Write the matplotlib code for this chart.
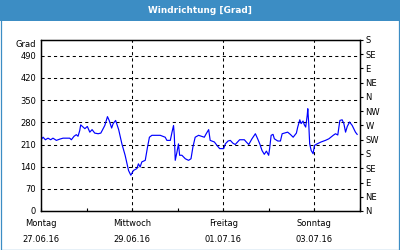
import matplotlib
matplotlib.use("Agg")
import matplotlib.pyplot as plt
from matplotlib.patches import Rectangle

# hours since Monday 27.06.16 00:00
hours = [0, 1.1, 2.3, 3.7, 5.1, 6.3, 8.1, 9.9, 11.6, 15.1, 16.0, 17.4, 18.6, 19.5,
         20.4, 20.9, 22.2, 23.1, 24.4, 25.7, 26.9, 28.3, 30.1, 31.5, 32.7, 33.6,
         35.0, 35.9, 37.2, 38.0, 39.3, 40.9, 42.6, 44.3, 46.1, 47.3, 48.7, 50.5,
         51.3, 52.2, 53.1, 54.9, 56.1, 57.1, 58.4, 62.8, 65.4, 66.3, 68.1, 69.0,
         69.8, 70.2, 70.7, 71.6, 72.4, 73.0, 74.2, 76.0, 77.7, 79.0, 80.0, 81.2,
         83.0, 86.0, 87.0, 88.3, 89.1, 91.3, 92.7, 94.1, 96.2, 97.1, 98.5, 99.7,
         101.1, 102.3, 104.6, 107.1, 108.1, 109.4, 111.1, 112.9, 114.1, 115.2,
         116.4, 117.6, 118.7, 119.9, 120.4, 121.2, 122.2, 122.9, 124.7, 126.1,
         127.0, 128.7, 129.9, 131.3, 132.8, 134.5, 135.2, 136.3, 137.0, 138.0,
         138.7, 139.4, 139.8, 140.2, 140.5, 141.0, 141.5, 142.3, 143.3, 144.0,
         145.4, 147.5, 149.8, 151.6, 153.9, 155.1, 156.3, 157.4, 158.6, 159.5,
         160.4, 161.3, 162.5, 163.9, 165.6, 166.5]
grad = [225, 233, 225, 230, 225, 230, 223, 227, 230, 230, 225, 236, 241, 236,
        254, 272, 265, 260, 267, 249, 257, 246, 244, 246, 260, 270,
        298, 286, 262, 276, 286, 257, 212, 176, 128, 113, 128, 134,
        149, 139, 155, 160, 202, 233, 239, 239, 233, 223, 223, 249,
        270, 239, 160, 186, 212, 176, 176, 165, 160, 165, 202, 233,
        239, 233, 244, 257, 223, 218, 207, 197, 197, 212, 221, 223,
        214, 210, 225, 225, 218, 210, 228, 244, 228, 212,
        191, 179, 189, 176, 197, 239, 242, 228, 221, 221,
        244, 247, 249, 242, 233, 246, 265, 288, 276, 284,
        272, 265, 284, 302, 323, 276, 212, 191, 181, 207,
        212, 218, 223, 228, 239, 244, 240, 286, 288, 276,
        249, 267, 281, 270, 249, 242]

left_ticks = [0, 70, 140, 210, 280, 350, 420, 490]
right_ticks = [0, 45, 90, 135, 180, 225, 270, 315, 360, 405, 450, 495, 540]
right_labels = ["N", "NE", "E", "SE", "S", "SW", "W", "NW", "N", "NE", "E", "SE", "S"]
day_ticks = [0, 48, 96, 144]
day_names = ["Montag", "Mittwoch", "Freitag", "Sonntag"]
day_dates = ["27.06.16", "29.06.16", "01.07.16", "03.07.16"]
title = "Windrichtung [Grad]"
unit = "Grad"

BLUE = "#3c8dc4"
FS = 6

fig = plt.figure(figsize=(4, 2.5), dpi=100)
fig.patch.set_facecolor("white")

# title bar and frame
fig.add_artist(Rectangle((0, 1 - 21 / 250), 1, 21 / 250, transform=fig.transFigure,
                         facecolor=BLUE, edgecolor="none", zorder=0))
fig.add_artist(Rectangle((0.5 / 400, 0.5 / 250), 1 - 1.5 / 400, 1 - 1.5 / 250,
                         transform=fig.transFigure, facecolor="none",
                         edgecolor=BLUE, lw=0.9, zorder=5))
fig.text(0.5, 1 - 10.5 / 250, title, ha="center", va="center", color="white",
         fontsize=6.4, fontweight="bold", family="DejaVu Sans")

ax = fig.add_axes([41 / 400, 1 - 211 / 250, 319 / 400, 171 / 250])
ax.set_xlim(0, 168)
ax.set_ylim(0, 540)
ax.plot(hours, grad, color="#0000ff", lw=0.85, zorder=3)

for y in left_ticks[1:]:
    ax.axhline(y, color="black", lw=0.75, ls=(0, (3, 3)), zorder=1)
for x in day_ticks[1:]:
    ax.axvline(x, color="black", lw=0.75, ls=(0, (3, 3)), zorder=1)

for s in ax.spines.values():
    s.set_linewidth(0.9)

ax.set_yticks(left_ticks)
ax.set_yticklabels([str(v) for v in left_ticks], fontsize=FS)
ax.tick_params(axis="y", length=0, pad=3.5)
ax.set_xticks(list(range(0, 169, 24)))
ax.set_xticklabels([])
ax.tick_params(axis="x", direction="in", length=2.5, width=0.8)

ax.text(-0.015, 1 - 5 / 171, unit, transform=ax.transAxes, ha="right", va="center",
        fontsize=FS)

for x, n, d in zip(day_ticks, day_names, day_dates):
    ax.text(x, -13 / 171, n, transform=ax.get_xaxis_transform(), ha="center",
            va="center", fontsize=FS)
    ax.text(x, -28 / 171, d, transform=ax.get_xaxis_transform(), ha="center",
            va="center", fontsize=FS)

ax2 = ax.twinx()
ax2.set_ylim(0, 540)
ax2.set_yticks(right_ticks)
ax2.set_yticklabels(right_labels, fontsize=FS)
ax2.tick_params(axis="y", direction="out", length=2.5, width=0.8, pad=1.5)
for s in ax2.spines.values():
    s.set_linewidth(0.9)

fig.savefig("out.png", dpi=100)
